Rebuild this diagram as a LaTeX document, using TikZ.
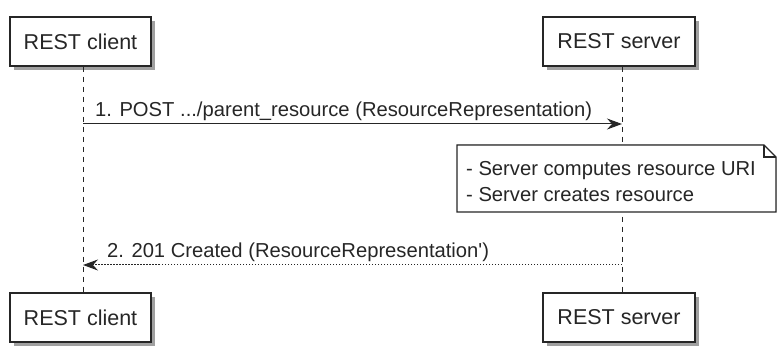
\documentclass[tikz,border=0pt]{standalone}
\usepackage{fontspec}
\setmainfont{Liberation Sans}
\newfontfamily\rawfont{Liberation Sans}[Mapping=]
\usetikzlibrary{arrows.meta,shadows}
\definecolor{ink}{HTML}{262626}
\definecolor{shade}{HTML}{808080}
\begin{document}
\begin{tikzpicture}[x=1pt,y=-1pt,
  actor/.style={draw=ink, line width=1.3pt, fill=white, inner sep=0pt,
    minimum height=49pt, font=\fontsize{21.5}{25}\selectfont, text=ink,
    drop shadow={shadow xshift=4pt, shadow yshift=-4pt, fill=shade, opacity=.75}},
  life/.style={draw=ink, line width=0.9pt, dash pattern=on 5pt off 5pt},
  msg/.style={draw=ink, line width=1pt, -{Stealth[length=15pt, width=11pt, inset=5pt]}},
  reply/.style={draw=ink, line width=1pt, dash pattern=on 1.5pt off 1.5pt, -{Stealth[length=15pt, width=11pt, inset=5pt]}},
  lbl/.style={font=\fontsize{20.2}{23}\selectfont, text=ink, inner sep=0pt, anchor=base west},
  notetxt/.style={font=\fontsize{20.2}{26}\selectfont, text=ink, inner sep=0pt, anchor=base west, align=left}
]
\useasboundingbox (0,0) rectangle (777,347);
% actors
\node[actor, minimum width=141pt] (ctop) at (80.5,41.5) {REST client};
\node[actor, minimum width=152pt] (stop) at (619,41.5) {REST server};
\node[actor, minimum width=141pt] (cbot) at (80.5,317.5) {REST client};
\node[actor, minimum width=152pt] (sbot) at (619,317.5) {REST server};
% lifeline positions
\coordinate (cx) at (83,0);
\coordinate (sx) at (622,0);
\draw[life] (ctop.south -| cx) -- (cbot.north -| cx);
\draw[life] (stop.south -| sx) -- (sbot.north -| sx);
% message 1
\coordinate (m1c) at (83,124);
\coordinate (m1s) at (622,124);
\draw[msg] (m1c) -- (m1s);
\node[lbl] (l1) at (95,117) {1. POST .../parent\_resource (ResourceRepresentation)};
% note
\coordinate (p1) at (457,145);
\coordinate (p2) at (764,145);
\coordinate (p3) at (776,157);
\coordinate (p4) at (776,212);
\coordinate (p5) at (457,212);
\coordinate (pf) at (764,157);
\fill[shade, opacity=.75, shift={(4,4)}] (p1) -- (p2) -- (p3) -- (p4) -- (p5) -- cycle;
\draw[ink, line width=1.3pt, fill=white] (p1) -- (p2) -- (p3) -- (p4) -- (p5) -- cycle;
\draw[ink, line width=1.3pt] (p2) -- (pf) -- (p3);
\node[notetxt] (n1) at (466,176) {- Server computes resource URI};
\node[notetxt] (n2) at (466,202) {- Server creates resource};
% message 2
\coordinate (m2s) at (622,265);
\coordinate (m2c) at (83,265);
\draw[reply] (m2s) -- (m2c);
\node[lbl] (l2) at (107,258) {2. 201 Created (ResourceRepresentation{\rawfont\fontsize{20.2}{23}\selectfont '})};
\end{tikzpicture}
\end{document}
